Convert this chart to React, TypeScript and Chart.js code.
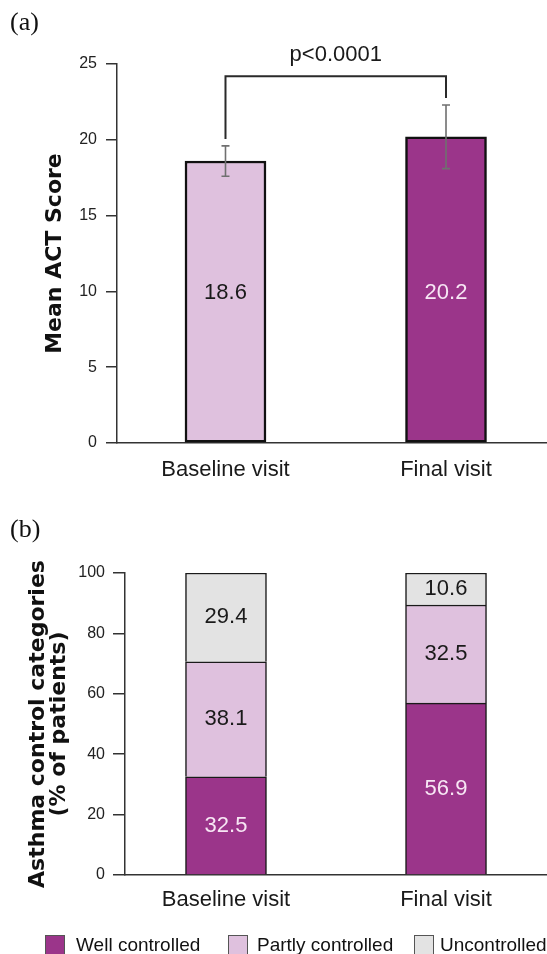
import { useEffect, useRef } from 'react';
import { Chart, registerables } from 'chart.js';

Chart.register(...registerables);

// ---------- data ----------
const visits = ['Baseline visit', 'Final visit'];
const actMeans = [18.6, 20.2];
const actErrors = [1.0, 2.1];
const pValueText = 'p<0.0001';

const controlCategories = ['Well controlled', 'Partly controlled', 'Uncontrolled'];
const wellControlled = [32.5, 56.9];
const partlyControlled = [38.1, 32.5];
const uncontrolled = [29.4, 10.6];

// ---------- styling ----------
const PURPLE = '#9b358a';
const LILAC = '#dfc1de';
const GREY = '#e3e3e3';
const AXIS = '#333333';
const SANS = '"Liberation Sans", Arial, Helvetica, sans-serif';
const TITLE_FONT = '"DejaVu Sans", Verdana, sans-serif';
const LABEL_LEVEL = 9.9;
const BRACKET_LEVEL = 24.2;
const BRACKET_GAP = 0.45;

const seriesColors = [PURPLE, LILAC, GREY];
const seriesTextColors = ['#f7e6f4', '#1a1a1a', '#1a1a1a'];
const seriesValues = [wellControlled, partlyControlled, uncontrolled];

const actLabelPlugin = {
  id: 'actLabels',
  afterDatasetsDraw(chart: any) {
    const { ctx, scales } = chart;
    const x = scales.x;
    const y = scales.y;
    ctx.save();
    // error bars
    ctx.strokeStyle = '#707070';
    ctx.lineWidth = 1.6;
    actMeans.forEach((m, i) => {
      const px = x.getPixelForValue(i);
      const top = y.getPixelForValue(m + actErrors[i]);
      const bot = y.getPixelForValue(m - actErrors[i]);
      ctx.beginPath();
      ctx.moveTo(px, top);
      ctx.lineTo(px, bot);
      ctx.moveTo(px - 4, top);
      ctx.lineTo(px + 4, top);
      ctx.moveTo(px - 4, bot);
      ctx.lineTo(px + 4, bot);
      ctx.stroke();
    });
    // value labels
    ctx.font = `22px ${SANS}`;
    ctx.textAlign = 'center';
    ctx.textBaseline = 'middle';
    actMeans.forEach((m, i) => {
      ctx.fillStyle = i === 0 ? '#1a1a1a' : '#f7e6f4';
      ctx.fillText(m.toFixed(1), x.getPixelForValue(i), y.getPixelForValue(LABEL_LEVEL));
    });
    // significance bracket
    const xL = x.getPixelForValue(0);
    const xR = x.getPixelForValue(1);
    const yTop = y.getPixelForValue(BRACKET_LEVEL);
    const legL = y.getPixelForValue(actMeans[0] + actErrors[0] + BRACKET_GAP);
    const legR = y.getPixelForValue(actMeans[1] + actErrors[1] + BRACKET_GAP);
    ctx.strokeStyle = '#2a2a2a';
    ctx.lineWidth = 2;
    ctx.beginPath();
    ctx.moveTo(xL, legL);
    ctx.lineTo(xL, yTop);
    ctx.lineTo(xR, yTop);
    ctx.lineTo(xR, legR);
    ctx.stroke();
    ctx.fillStyle = '#1a1a1a';
    ctx.fillText(pValueText, (xL + xR) / 2, yTop - 21);
    ctx.restore();
  },
};

const stackLabelPlugin = {
  id: 'stackLabels',
  afterDatasetsDraw(chart: any) {
    const { ctx } = chart;
    ctx.save();
    ctx.font = `22px ${SANS}`;
    ctx.textAlign = 'center';
    ctx.textBaseline = 'middle';
    chart.data.datasets.forEach((ds: any, di: number) => {
      const meta = chart.getDatasetMeta(di);
      meta.data.forEach((el: any, i: number) => {
        const v = ds.data[i].y;
        ctx.fillStyle = seriesTextColors[di];
        ctx.fillText(v.toFixed(1), el.x, (el.y + el.base) / 2);
      });
    });
    ctx.restore();
  },
};

const xTickFont = { family: SANS, size: 22 };
const yTickFont = { family: SANS, size: 16 };

export default function App() {
  const refA = useRef<HTMLCanvasElement>(null);
  const refB = useRef<HTMLCanvasElement>(null);

  useEffect(() => {
    const chartA = new Chart(refA.current as HTMLCanvasElement, {
      type: 'bar',
      data: {
        datasets: [
          {
            label: 'Mean ACT Score',
            data: visits.map((_, i) => ({ x: i, y: actMeans[i] })),
            backgroundColor: [LILAC, PURPLE],
            borderColor: '#111111',
            borderWidth: 2.5,
            borderSkipped: false,
            barThickness: 81,
          },
        ],
      },
      options: {
        animation: false,
        responsive: false,
        devicePixelRatio: 1,
        events: [],
        layout: { padding: { top: 64, left: 0, right: 0, bottom: 0 } },
        plugins: { legend: { display: false }, tooltip: { enabled: false } },
        scales: {
          x: {
            type: 'linear',
            min: -0.492,
            max: 1.458,
            bounds: 'data',
            offset: false,
            afterBuildTicks: (s: any) => {
              s.ticks = visits.map((_, i) => ({ value: i }));
            },
            afterFit: (s: any) => {
              s.height = 57;
            },
            grid: { display: false, drawTicks: false, tickLength: 0, offset: false },
            border: { display: true, color: AXIS, width: 1.5 },
            ticks: {
              autoSkip: false,
              maxRotation: 0,
              padding: 14,
              color: '#1a1a1a',
              font: xTickFont,
              callback: (v: any) => visits[v] ?? '',
            },
          },
          y: {
            min: 0,
            max: 25,
            afterFit: (s: any) => {
              s.width = 117;
            },
            ticks: { stepSize: 5, padding: 9, color: '#222222', font: yTickFont },
            grid: { display: true, drawOnChartArea: false, drawTicks: true, tickLength: 11, color: AXIS, lineWidth: 1.5 },
            border: { display: true, color: AXIS, width: 1.5 },
            title: {
              display: true,
              text: 'Mean ACT Score',
              color: '#111111',
              font: { family: TITLE_FONT, size: 22, weight: 'bold', lineHeight: 1 },
              padding: { top: 44, bottom: 0 },
            },
          },
        },
      } as any,
      plugins: [actLabelPlugin],
    });

    const chartB = new Chart(refB.current as HTMLCanvasElement, {
      type: 'bar',
      data: {
        datasets: controlCategories.map((name, di) => ({
          label: name,
          data: visits.map((_, i) => ({ x: i, y: seriesValues[di][i] })),
          backgroundColor: seriesColors[di],
          borderColor: '#1a1a1a',
          borderWidth: 1.5,
          borderSkipped: 'start',
          barThickness: 81,
        })),
      },
      options: {
        animation: false,
        responsive: false,
        devicePixelRatio: 1,
        events: [],
        layout: { padding: { top: 73, left: 0, right: 0, bottom: 0 } },
        plugins: { legend: { display: false }, tooltip: { enabled: false } },
        scales: {
          x: {
            type: 'linear',
            stacked: true,
            min: -0.459,
            max: 1.459,
            bounds: 'data',
            offset: false,
            afterBuildTicks: (s: any) => {
              s.ticks = visits.map((_, i) => ({ value: i }));
            },
            afterFit: (s: any) => {
              s.height = 79;
            },
            grid: { display: false, drawTicks: false, tickLength: 0, offset: false },
            border: { display: true, color: AXIS, width: 1.5 },
            ticks: {
              autoSkip: false,
              maxRotation: 0,
              padding: 12,
              color: '#1a1a1a',
              font: xTickFont,
              callback: (v: any) => visits[v] ?? '',
            },
          },
          y: {
            stacked: true,
            min: 0,
            max: 100,
            afterFit: (s: any) => {
              s.width = 125;
            },
            ticks: { stepSize: 20, padding: 8, color: '#222222', font: yTickFont },
            grid: { display: true, drawOnChartArea: false, drawTicks: true, tickLength: 12, color: AXIS, lineWidth: 1.5 },
            border: { display: true, color: AXIS, width: 1.5 },
            title: {
              display: true,
              text: ['Asthma control categories', '(% of patients)'],
              color: '#111111',
              font: { family: TITLE_FONT, size: 22, weight: 'bold', lineHeight: '21px' },
              padding: { top: 28, bottom: 0 },
            },
          },
        },
      } as any,
      plugins: [stackLabelPlugin],
    });

    return () => {
      chartA.destroy();
      chartB.destroy();
    };
  }, []);

  const legendItems = [
    { box: 45, text: 76 },
    { box: 228, text: 257 },
    { box: 414, text: 440 },
  ];

  return (
    <div
      style={{
        position: 'absolute',
        left: 0,
        top: 0,
        width: 547,
        height: 954,
        overflow: 'hidden',
        background: '#ffffff',
        fontFamily: SANS,
      }}
    >
      <canvas
        ref={refA}
        width={547}
        height={500}
        style={{ position: 'absolute', left: 0, top: 0, width: 547, height: 500 }}
      />
      <canvas
        ref={refB}
        width={547}
        height={454}
        style={{ position: 'absolute', left: 0, top: 500, width: 547, height: 454 }}
      />
      <div
        style={{
          position: 'absolute',
          left: 10,
          top: 8.5,
          fontFamily: '"Liberation Serif", "Times New Roman", serif',
          fontSize: 26,
          lineHeight: '26px',
          color: '#111',
        }}
      >
        (a)
      </div>
      <div
        style={{
          position: 'absolute',
          left: 10,
          top: 515.5,
          fontFamily: '"Liberation Serif", "Times New Roman", serif',
          fontSize: 26,
          lineHeight: '26px',
          color: '#111',
        }}
      >
        (b)
      </div>
      {controlCategories.map((name, i) => (
        <div key={name}>
          <div
            style={{
              position: 'absolute',
              left: legendItems[i].box,
              top: 935,
              width: 20,
              height: 20,
              boxSizing: 'border-box',
              background: seriesColors[i],
              border: '1.5px solid #555',
            }}
          />
          <div
            style={{
              position: 'absolute',
              left: legendItems[i].text,
              top: 934.5,
              fontSize: 19,
              lineHeight: '19px',
              color: '#111',
              whiteSpace: 'nowrap',
            }}
          >
            {name}
          </div>
        </div>
      ))}
    </div>
  );
}
